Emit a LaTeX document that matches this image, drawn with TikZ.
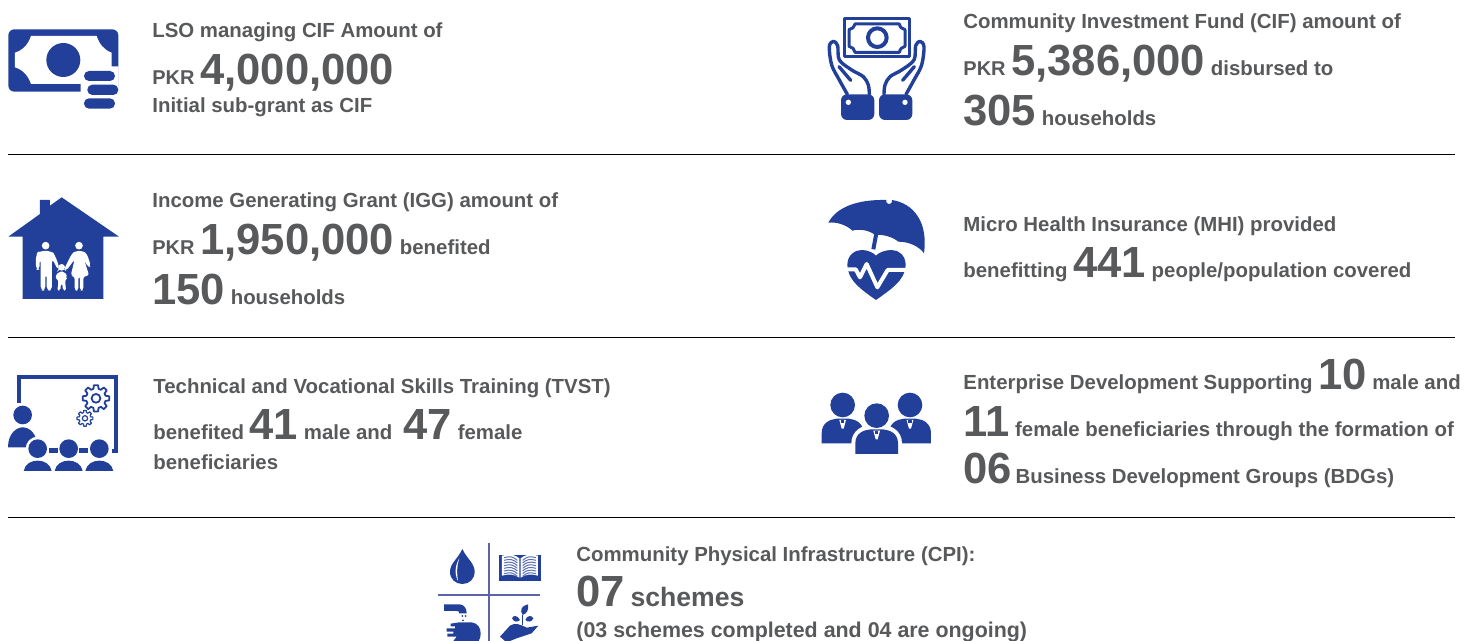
\documentclass[tikz,border=0pt]{standalone}
\usepackage{fontspec}
\setmainfont{Liberation Sans}
\definecolor{iconblue}{HTML}{224099}
\definecolor{txtgray}{HTML}{58595B}
\definecolor{gridblue}{HTML}{5A64A8}
\newcommand\bnum[1]{{\fontsize{21.8}{24}\selectfont #1}}
\newcommand\smallpkr[1]{{\fontsize{10}{12}\selectfont #1}}
\newcommand\mygear[4]{%
  \draw[draw=iconblue,line width=#4,fill=white,line join=round]
  ({#1+#3*cos(9)},{#2+#3*sin(9)})
  \foreach \a in {0,45,...,315}{
    -- ({#1+#3*cos(\a+9)},{#2+#3*sin(\a+9)})
    -- ({#1+#3*0.74*cos(\a+15)},{#2+#3*0.74*sin(\a+15)})
    -- ({#1+#3*0.74*cos(\a+30)},{#2+#3*0.74*sin(\a+30)})
    -- ({#1+#3*cos(\a+36)},{#2+#3*sin(\a+36)})
  } -- cycle;
  \draw[draw=iconblue,line width=#4] (#1,#2) circle[radius=#3*0.33];}
\tikzset{
  x=0.5pt,y=-0.5pt,
  txt/.style={anchor=base west,inner sep=0pt,text=txtgray,font=\bfseries\fontsize{10.2}{12}\selectfont},
  rule/.style={draw=black,line width=0.45pt},
  ic/.style={fill=iconblue,draw=none},
  wh/.style={fill=white,draw=none},
  stroke/.style={draw=iconblue,line join=round,line cap=round},
}
\begin{document}
\begin{tikzpicture}
\useasboundingbox (0,0) rectangle (1478,641);
% rules
\draw[rule] (8,154.5) -- (1455,154.5);
\draw[rule] (8,337.6) -- (1455,337.6);
\draw[rule] (8,517.5) -- (1455,517.5);
% texts
\node[txt] (a1) at (152,37.7) {LSO managing CIF Amount of};
\node[txt] (a2) at (152,84.7) {\smallpkr{PKR} \bnum{4,000,000}};
\node[txt] (a3) at (152,112.5) {Initial sub-grant as CIF};
\node[txt] (b1) at (963,28.7) {Community Investment Fund (CIF) amount of};
\node[txt] (b2) at (963,75.7) {\smallpkr{PKR} \bnum{5,386,000} disbursed to};
\node[txt] (b3) at (963,125.7) {\bnum{305} households};
\node[txt] (c1) at (152,207.7) {Income Generating Grant (IGG) amount of};
\node[txt] (c2) at (152,254.7) {\smallpkr{PKR} \bnum{1,950,000} benefited};
\node[txt] (c3) at (152,304.7) {\bnum{150} households};
\node[txt] (d1) at (963,231.5) {Micro Health Insurance (MHI) provided};
\node[txt] (d2) at (963,277.7) {benefitting \bnum{441} people/population covered};
\node[txt] (e1) at (153,393.7) {Technical and Vocational Skills Training (TVST)};
\node[txt] (e2) at (153,439.7) {benefited \bnum{41} male and \ \bnum{47} female};
\node[txt] (e3) at (153,469.5) {beneficiaries};
\node[txt] (f1) at (963,389.7) {Enterprise Development Supporting \bnum{10} male and};
\node[txt] (f2) at (963,436.7) {\bnum{11} female beneficiaries through the formation of};
\node[txt] (f3) at (963,483.7) {\bnum{06}\hspace{-1pt} Business Development Groups (BDGs)};
\node[txt] (g1) at (576,561) {Community Physical Infrastructure (CPI):};
\node[txt] (g2) at (576,606.7) {\bnum{07} {\fontsize{13.3}{14}\selectfont schemes}};
\node[txt,font=\bfseries\fontsize{10.7}{12}\selectfont] (g3) at (576,637) {(03 schemes completed and 04 are ongoing)};
% icon 1 money
\begin{scope}[shift={(0,10)},scale=0.3333]
\fill[ic,rounded corners=3pt] (25,58) rectangle (355,245);
\fill[wh] (93,78) -- (290,78) .. controls (298,102) and (312,120) .. (335,128) -- (335,169) -- (356,169) -- (356,246) -- (242,246) -- (242,222) -- (93,222) .. controls (85,198) and (70,180) .. (45,172) -- (45,128) .. controls (70,120) and (85,102) .. (93,78) -- cycle;
\fill[ic] (190,150) circle[radius=51];
\fill[ic,rounded corners=2.5pt] (252,183) rectangle (345,213);
\fill[ic,rounded corners=2.5pt] (262,224) rectangle (355,255);
\fill[ic,rounded corners=2.5pt] (252,265) rectangle (345,296);
\end{scope}
% icon 2 hands
\begin{scope}[shift={(810,5)},scale=0.3333]
\draw[stroke,line width=1.5pt,line cap=butt] (102,42) rectangle (300,156);
\draw[stroke,line width=1.5pt] (135,57) -- (268,57) .. controls (270,67) and (276,72) .. (285,74) -- (285,124) .. controls (276,126) and (270,132) .. (268,142) -- (135,142) .. controls (133,132) and (127,126) .. (117,124) -- (117,74) .. controls (127,72) and (133,67) .. (135,57) -- cycle;
\draw[stroke,line width=2pt] (202,98) circle[radius=28];
\foreach \sc/\sh in {1/0,-1/400}{
\begin{scope}[shift={(\sh,0)},xscale=\sc]
\draw[stroke,line width=1.7pt] plot[smooth,tension=0.55] coordinates {(112,268) (88,225) (65,180) (58,125) (70,109) (83,122) (88,165) (125,195) (160,215) (175,240) (178,268)};
\draw[stroke,line width=1.7pt] (122,226) -- (87,185);
\fill[ic,rounded corners=3pt] (93,268) rectangle (193,345);
\fill[wh] (115,292) circle[radius=8];
\end{scope}}
\end{scope}
% icon 3 house
\begin{scope}[shift={(0,190)},scale=0.3333]
\fill[ic] (25,140) -- (120,72) -- (120,30) -- (150,30) -- (150,47) -- (185,22) -- (357,140) -- (310,140) -- (310,327) -- (68,327) -- (68,140) -- cycle;
\fill[wh] (137,167) circle[radius=11.5];
\fill[wh] (237,167) circle[radius=11.5];
\fill[wh] (185,232) circle[radius=10];
\fill[wh,rounded corners=2pt] (108,240) -- (108,192) -- (118,183) -- (155,183) -- (165,195) -- (180,238) -- (175,242) -- (156,205) -- (156,302) -- (140,302) -- (140,250) -- (136,250) -- (136,302) -- (122,302) -- (122,205) -- (119,205) -- (119,240) -- cycle;
\fill[wh,rounded corners=1.5pt] (226,183) -- (248,183) -- (260,190) -- (273,228) -- (264,232) -- (252,208) -- (268,258) -- (250,258) -- (250,302) -- (240,302) -- (240,258) -- (235,258) -- (235,302) -- (224,302) -- (224,258) -- (212,258) -- (224,208) -- (198,243) -- (192,238) -- (215,192) -- cycle;
\fill[wh,rounded corners=1pt] (176,245) -- (194,245) -- (203,262) -- (197,266) -- (196,278) -- (198,302) -- (189,302) -- (187,280) -- (183,280) -- (181,302) -- (172,302) -- (175,278) -- (173,266) -- (165,262) -- cycle;
\end{scope}
% icon 4 umbrella heart
\begin{scope}[shift={(815,190)},scale=0.3333]
\fill[ic] (40,98) .. controls (65,50) and (130,28) .. (214,30) arc[start angle=200,end angle=-20,radius=9] .. controls (295,40) and (340,95) .. (327,190) .. controls (315,172) and (285,155) .. (250,155) .. controls (235,142) and (205,132) .. (180,135) .. controls (165,122) and (135,115) .. (112,122) .. controls (95,105) and (65,95) .. (40,98) -- cycle;
\draw[stroke,line width=2pt,line cap=butt] (184,130) -- (175,178);
\fill[ic] (183,330) .. controls (140,300) and (97,270) .. (97,225) .. controls (97,195) and (120,180) .. (140,180) .. controls (158,180) and (175,188) .. (183,197) .. controls (191,188) and (210,180) .. (230,180) .. controls (252,180) and (272,197) .. (272,225) .. controls (272,270) and (225,300) .. (183,330) -- cycle;
\draw[draw=white,line width=2pt,line join=round] (95,238) -- (122,238) -- (135,262) -- (155,222) -- (187,292) -- (218,240) -- (274,240);
\end{scope}
% icon 5 training
\begin{scope}[shift={(0,370)},scale=0.3333]
\draw[draw=iconblue,line width=2pt] (58,98) -- (58,22) -- (348,22) -- (348,242) -- (335,242);
\mygear{288}{85}{40}{0.9pt}
\mygear{255}{145}{24}{0.6pt}
\fill[ic] (68,135) circle[radius=28];
\fill[ic] (24,232) .. controls (24,190) and (50,172) .. (68,172) .. controls (88,172) and (112,190) .. (112,232) -- cycle;
\fill[wh] (113,236) circle[radius=36];
\fill[wh] (72,272) rectangle (115,310);
\fill[ic] (147,233) rectangle (175,248);
\fill[ic] (237,233) rectangle (265,248);
\foreach \c in {113,206,298}{
\fill[ic] (\c,236) circle[radius=28];
\fill[ic] ({\c-42},303) .. controls ({\c-38},282) and ({\c-20},272) .. (\c,272) .. controls ({\c+20},272) and ({\c+38},282) .. ({\c+42},303) -- cycle;}
\end{scope}
% icon 6 team
\begin{scope}[shift={(810,380)},scale=0.3333]
\foreach \c in {98,300}{
\fill[ic] (\c,75) circle[radius=37];
\fill[ic] ({\c-63},190) -- ({\c-63},160) .. controls ({\c-63},130) and ({\c-40},118) .. ({\c-18},116) -- ({\c+18},116) .. controls ({\c+40},118) and ({\c+63},130) .. ({\c+63},160) -- ({\c+63},190) -- cycle;
\fill[wh] ({\c-10},120) -- ({\c+10},120) -- ({\c+3},146) -- ({\c-3},146) -- cycle;
\fill[ic] ({\c-5},120) rectangle ({\c+5},130);}
\fill[wh] (124,223) -- (124,190) .. controls (124,150) and (160,136) .. (180,134) -- (220,134) .. controls (240,136) and (276,150) .. (276,190) -- (276,223) -- cycle;
\fill[wh] (200,107) circle[radius=43];
\fill[ic] (200,107) circle[radius=37];
\fill[ic] (136,222) -- (136,190) .. controls (136,160) and (160,150) .. (182,148) -- (218,148) .. controls (240,150) and (264,160) .. (264,190) -- (264,222) -- cycle;
\fill[wh] (190,152) -- (210,152) -- (203,178) -- (197,178) -- cycle;
\fill[ic] (195,152) rectangle (205,162);
\end{scope}
% icon 7 CPI
\begin{scope}[shift={(430,535)},scale=0.3333]
\draw[gridblue,line width=0.7pt] (177,25) -- (177,318);
\draw[gridblue,line width=0.7pt] (25,180) -- (330,180);
\fill[ic] (97,42) .. controls (85,70) and (60,85) .. (60,110) .. controls (60,132) and (76,147) .. (97,147) .. controls (118,147) and (134,132) .. (134,110) .. controls (134,85) and (110,70) .. (97,42) -- cycle;
\fill[wh] (88,70) .. controls (76,90) and (72,115) .. (84,138) .. controls (80,115) and (80,92) .. (88,70) -- cycle;
\fill[ic] (207,60) rectangle (332,138);
\fill[wh] (216,62) .. controls (235,56) and (255,58) .. (268,70) -- (268,128) .. controls (255,118) and (235,116) .. (216,122) -- cycle;
\fill[wh] (272,70) .. controls (285,58) and (305,56) .. (324,62) -- (324,122) .. controls (305,116) and (285,118) .. (272,128) -- cycle;
\foreach \d in {0,8,...,48}{
\draw[iconblue!75!white,line width=0.5pt] (222,{68+\d}) .. controls (240,{63+\d}) and (250,{65+\d}) .. (262,{76+\d});
\draw[iconblue!75!white,line width=0.5pt] (278,{76+\d}) .. controls (290,{65+\d}) and (300,{63+\d}) .. (318,{68+\d});}
\fill[ic] (42,208) -- (90,208) .. controls (104,210) and (110,222) .. (110,235) -- (88,235) .. controls (88,230) and (86,228) .. (80,228) -- (42,228) -- cycle;
\fill[ic] (97,243) circle[radius=3];
\fill[ic] (107,243) circle[radius=3];
\fill[ic] (99,256) circle[radius=3];
\fill[ic] (88,262) -- (125,262) .. controls (145,265) and (152,280) .. (152,296) .. controls (152,305) and (150,312) .. (146,318) -- (70,318) -- (80,305) -- (52,305) -- (52,296) -- (70,296) -- (70,290) -- (50,290) -- (50,280) -- (75,280) -- (75,274) -- (62,274) -- (62,266) -- cycle;
\fill[ic] (210,305) -- (240,272) .. controls (255,262) and (270,268) .. (290,278) -- (325,272) -- (305,295) -- (260,310) -- (240,318) -- (225,318) -- cycle;
\fill[ic] (270,255) .. controls (262,240) and (250,240) .. (246,250) .. controls (252,262) and (262,262) .. (270,255) -- cycle;
\fill[ic] (286,255) .. controls (292,240) and (305,240) .. (310,250) .. controls (305,262) and (295,262) .. (286,255) -- cycle;
\fill[ic] (278,240) .. controls (268,225) and (275,212) .. (294,208) .. controls (296,225) and (292,235) .. (278,240) -- cycle;
\draw[iconblue,line width=0.8pt] (278,240) -- (278,270);
\end{scope}
\end{tikzpicture}
\end{document}
